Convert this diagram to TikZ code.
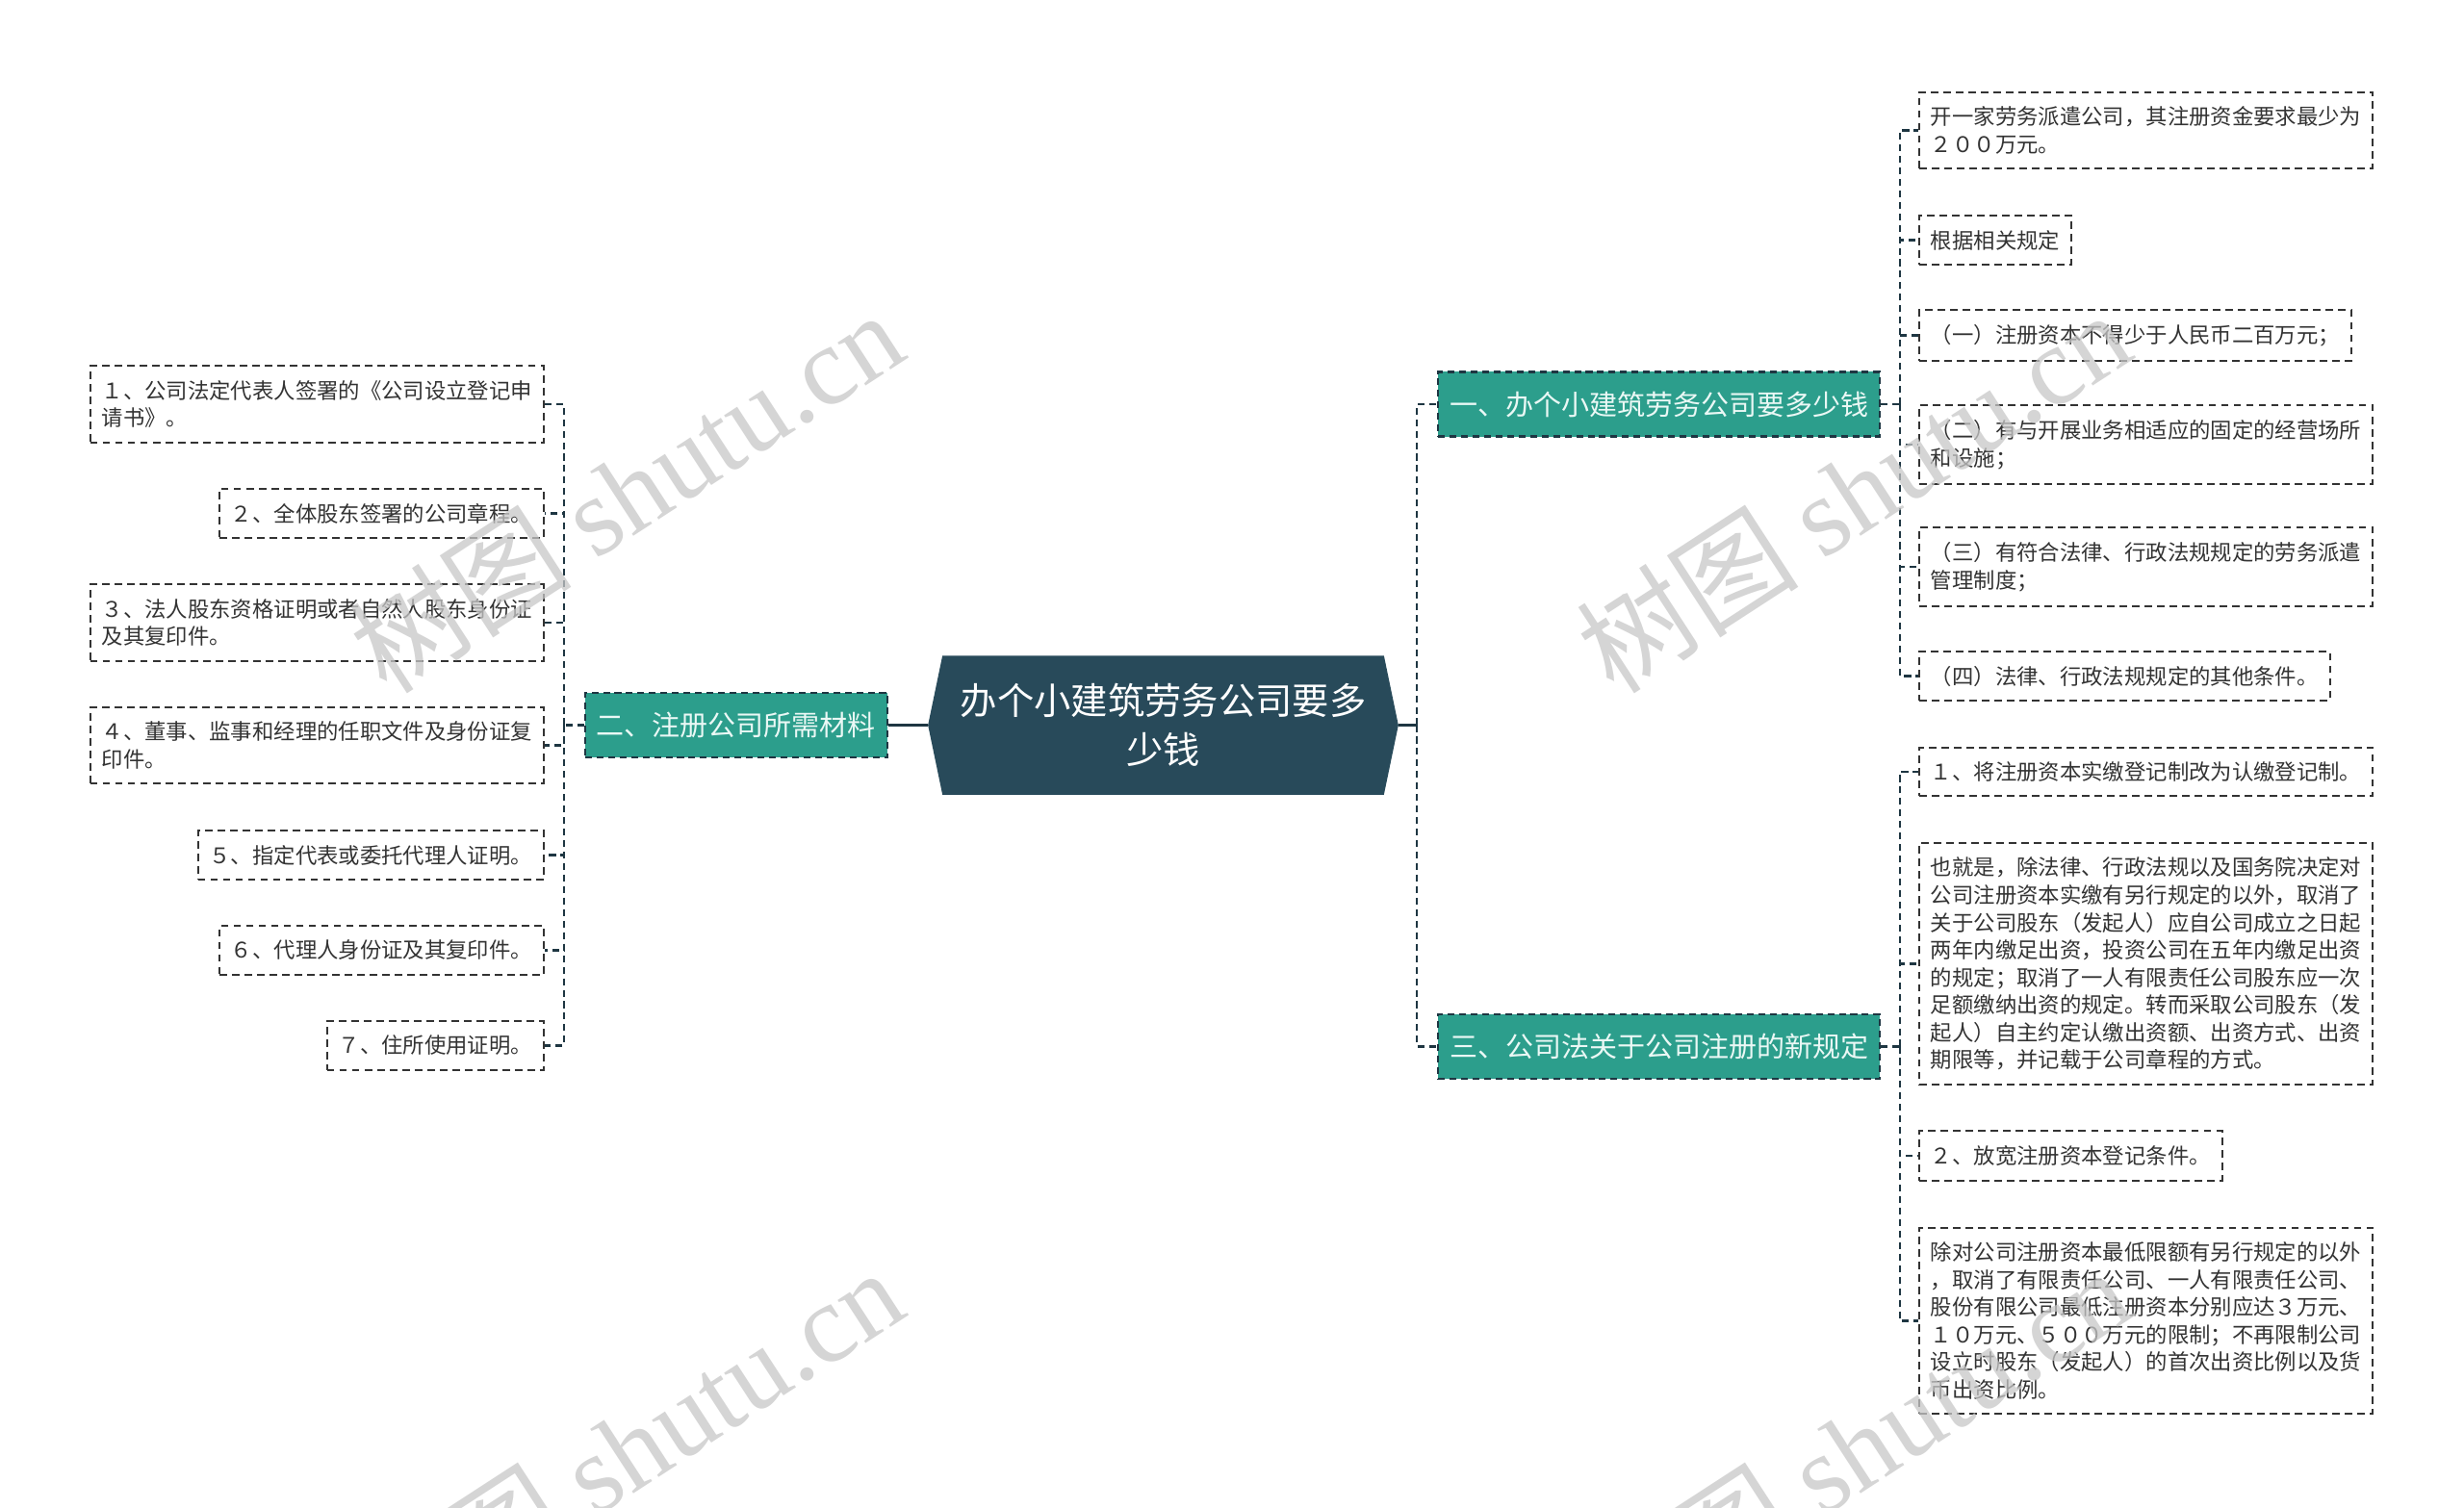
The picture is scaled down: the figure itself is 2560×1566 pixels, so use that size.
\documentclass[tikz,border=0pt]{standalone}
\usepackage{fontspec}
\setmainfont{Noto Sans CJK SC}
\newfontfamily\wmfont{Liberation Serif}
\usetikzlibrary{backgrounds}

\definecolor{rootbg}{HTML}{284A5A}
\definecolor{branchbg}{HTML}{2C9E8C}
\definecolor{branchtext}{HTML}{EAF8F5}
\definecolor{linedark}{HTML}{1E3642}
\definecolor{leaftext}{HTML}{333333}

\begin{document}
\begin{tikzpicture}[x=0.01cm, y=-0.01cm,
  rootnode/.style={minimum width=4.87cm, minimum height=1.43cm, inner sep=0pt,
    align=center, text=white, font=\fontsize{10.9pt}{14.5pt}\selectfont},
  branch/.style={draw=linedark, line width=0.6pt, dash pattern=on 2pt off 1.4pt,
    fill=branchbg, text=branchtext, inner xsep=0.12cm, minimum height=0.67cm,
    font=\fontsize{8.25pt}{10pt}\selectfont},
  leaf/.style={draw=leaftext, line width=0.55pt, dash pattern=on 2.2pt off 1.5pt,
    align=left, text=leaftext, inner xsep=0.12cm, inner ysep=0.15cm,
    font=\fontsize{6.36pt}{8.11pt}\selectfont},
  link/.style={draw=linedark, line width=0.6pt, dash pattern=on 2pt off 1.4pt},
  stem/.style={draw=linedark, line width=0.7pt},
  wmark/.style={rotate=33, text=black!22, opacity=0.75,
    font=\fontsize{33pt}{33pt}\selectfont}]

  \useasboundingbox (0,0) rectangle (2560,1566);

  % Root
  \node[rootnode] (root) at (1208.5,753.5) {办个小建筑劳务公司要多\\少钱};
  \begin{scope}[on background layer]
    \fill[white] (0,0) rectangle (2560,1566);
    \fill[rootbg] (root.west) -- ([xshift=0.15cm]root.north west)
      -- ([xshift=-0.15cm]root.north east) -- (root.east)
      -- ([xshift=-0.15cm]root.south east) -- ([xshift=0.15cm]root.south west) -- cycle;
  \end{scope}

  % Branches
  \node[branch, anchor=west] (b1) at (1493,420) {一、办个小建筑劳务公司要多少钱};
  \node[branch, anchor=east] (b2) at (923,753.5) {二、注册公司所需材料};
  \node[branch, anchor=west] (b3) at (1493,1087.5) {三、公司法关于公司注册的新规定};

  % Leaves of b1
  \node[leaf, anchor=west] (r1) at (1993,135.5) {开一家劳务派遣公司，其注册资金要求最少为\\２００万元。};
  \node[leaf, anchor=west] (r2) at (1993,249.5) {根据相关规定};
  \node[leaf, anchor=west] (r3) at (1993,348.5) {（一）注册资本不得少于人民币二百万元；};
  \node[leaf, anchor=west] (r4) at (1993,462) {（二）有与开展业务相适应的固定的经营场所\\和设施；};
  \node[leaf, anchor=west] (r5) at (1993,589) {（三）有符合法律、行政法规规定的劳务派遣\\管理制度；};
  \node[leaf, anchor=west] (r6) at (1993,702.5) {（四）法律、行政法规规定的其他条件。};

  % Leaves of b3
  \node[leaf, anchor=west] (s1) at (1993,802) {１、将注册资本实缴登记制改为认缴登记制。};
  \node[leaf, anchor=west] (s2) at (1993,1001.5) {也就是，除法律、行政法规以及国务院决定对\\公司注册资本实缴有另行规定的以外，取消了\\关于公司股东（发起人）应自公司成立之日起\\两年内缴足出资，投资公司在五年内缴足出资\\的规定；取消了一人有限责任公司股东应一次\\足额缴纳出资的规定。转而采取公司股东（发\\起人）自主约定认缴出资额、出资方式、出资\\期限等，并记载于公司章程的方式。};
  \node[leaf, anchor=west] (s3) at (1993,1201) {２、放宽注册资本登记条件。};
  \node[leaf, anchor=west] (s4) at (1993,1372.5) {除对公司注册资本最低限额有另行规定的以外\\，取消了有限责任公司、一人有限责任公司、\\股份有限公司最低注册资本分别应达３万元、\\１０万元、５００万元的限制；不再限制公司\\设立时股东（发起人）的首次出资比例以及货\\币出资比例。};

  % Leaves of b2
  \node[leaf, anchor=east] (p1) at (566,420) {１、公司法定代表人签署的《公司设立登记申\\请书》。};
  \node[leaf, anchor=east] (p2) at (566,533.5) {２、全体股东签署的公司章程。};
  \node[leaf, anchor=east] (p3) at (566,647) {３、法人股东资格证明或者自然人股东身份证\\及其复印件。};
  \node[leaf, anchor=east] (p4) at (566,774.5) {４、董事、监事和经理的任职文件及身份证复\\印件。};
  \node[leaf, anchor=east] (p5) at (566,888.5) {５、指定代表或委托代理人证明。};
  \node[leaf, anchor=east] (p6) at (566,987.5) {６、代理人身份证及其复印件。};
  \node[leaf, anchor=east] (p7) at (566,1086.5) {７、住所使用证明。};

  % Connectors
  \coordinate (rj) at (1472,753.5);
  \coordinate (lj) at (586,753.5);
  \coordinate (j1) at (1974,420);
  \coordinate (j3) at (1974,1087.5);

  \draw[stem] (root.east) -- (rj);
  \draw[stem] (root.west) -- (b2.east);
  \draw[link] (rj) |- (b1.west);
  \draw[link] (rj) |- (b3.west);

  \draw[link] (b2.west) -- (lj);
  \foreach \i in {1,...,7}
    \draw[link] (lj) |- (p\i.east);

  \draw[link] (b1.east) -- (j1);
  \foreach \i in {1,...,6}
    \draw[link] (j1) |- (r\i.west);

  \draw[link] (b3.east) -- (j3);
  \foreach \i in {1,...,4}
    \draw[link] (j3) |- (s\i.west);

  % Watermark
  \begin{scope}
    \clip (0,0) rectangle (2560,1566);
    \foreach \wx/\wy [count=\k] in {650/510, 1925/510, 650/1505, 1925/1505}
      \node[wmark] (wm\k) at (\wx,\wy) {树图 {\wmfont shutu.cn}};
  \end{scope}
\end{tikzpicture}
\end{document}
